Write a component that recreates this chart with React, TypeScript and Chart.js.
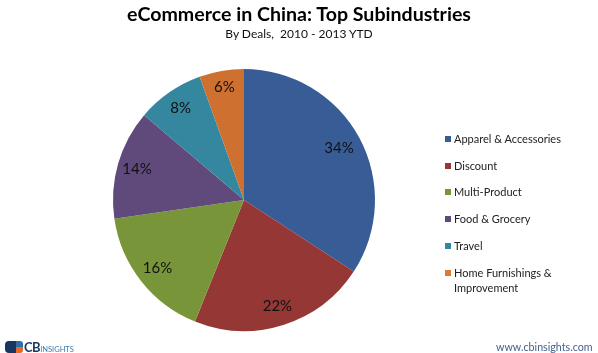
import React, { useEffect, useRef } from "react";
import { Chart, registerables } from "chart.js";

Chart.register(...registerables);

const categories = ["Apparel & Accessories", "Discount", "Multi-Product", "Food & Grocery", "Travel", "Home Furnishings & Improvement"];
const legendLines = [["Apparel & Accessories"], ["Discount"], ["Multi-Product"], ["Food & Grocery"], ["Travel"], ["Home Furnishings &", "Improvement"]];
const sliceSizes = [34.2, 21.9, 16.6, 13.5, 8.3, 5.5];
const sliceLabelValues = [34, 22, 16, 14, 8, 6];
const sliceColors = ["#385d96", "#953735", "#789639", "#604a7b", "#35869f", "#cd7030"];
const legendColors = ["#385d96", "#953735", "#789639", "#604a7b", "#35869f", "#dd7a32"];
const titleText = "eCommerce in China: Top Subindustries";
const subtitleText = "By Deals,  2010 - 2013 YTD";
const footerText = "www.cbinsights.com";

const FONT = "Lato, 'Noto Sans', sans-serif";

const sliceLabels = {
  id: "sliceLabels",
  afterDatasetsDraw(chart: any) {
    const { ctx } = chart;
    const arcs = chart.getDatasetMeta(0).data;
    const radialFactor = [0.825, 0.85, 0.84, 0.85, 0.85, 0.875];
    ctx.save();
    ctx.font = `15px ${FONT}`;
    ctx.fillStyle = "#111111";
    ctx.textAlign = "center";
    ctx.textBaseline = "middle";
    arcs.forEach((arc: any, i: number) => {
      const mid = (arc.startAngle + arc.endAngle) / 2;
      const r = arc.outerRadius * radialFactor[i];
      ctx.fillText(`${sliceLabelValues[i]}%`, arc.x + Math.cos(mid) * r, arc.y + Math.sin(mid) * r);
    });
    ctx.restore();
  },
};

export default function App() {
  const ref = useRef<HTMLCanvasElement>(null);
  useEffect(() => {
    const chart = new Chart(ref.current!, {
      type: "pie",
      data: {
        labels: categories,
        datasets: [{ data: sliceSizes, backgroundColor: sliceColors, borderWidth: 0 }],
      },
      options: {
        animation: false,
        responsive: false,
        layout: { padding: { left: 113, right: 223, top: 69, bottom: 22 } },
        plugins: {
          legend: { display: false },
          tooltip: { enabled: false },
        },
      },
      plugins: [sliceLabels],
    } as any);
    return () => chart.destroy();
  }, []);

  const rowTops = [131, 158, 184, 211, 238, 265];
  return (
    <div style={{ position: "fixed", left: 0, top: 0, width: 598, height: 353, background: "#fff", overflow: "hidden", fontFamily: FONT }}>
      <canvas ref={ref} width={598} height={353} style={{ display: "block" }} />
      <div style={{ position: "absolute", left: 0, width: 598, top: -1, textAlign: "center", color: "#000", fontSize: 19.6, lineHeight: "29px", fontWeight: 700, whiteSpace: "nowrap" }}>{titleText}</div>
      <div style={{ position: "absolute", left: 0, width: 598, top: 25, textAlign: "center", color: "#111", fontSize: 12, lineHeight: "18px", whiteSpace: "pre" }}>{subtitleText}</div>
      {legendLines.map((lines, i) => (
        <div key={categories[i]} style={{ position: "absolute", left: 445, top: rowTops[i], color: "#222", fontSize: 11, lineHeight: "15px" }}>
          <span style={{ position: "absolute", left: 0, top: 5, width: 6, height: 6, background: legendColors[i] }} />
          <div style={{ marginLeft: 9, whiteSpace: "nowrap" }}>
            {lines.map((l) => <div key={l}>{l}</div>)}
          </div>
        </div>
      ))}
      <div style={{ position: "absolute", left: 496, top: 341, color: "#46618f", fontSize: 10.7, lineHeight: "12px", whiteSpace: "nowrap" }}>{footerText}</div>
      <div style={{ position: "absolute", left: 5, top: 341, width: 11, height: 12, background: "#17375e", borderRadius: "4px 0 0 4px" }} />
      <div style={{ position: "absolute", left: 16, top: 341, width: 7, height: 6, background: "#2f6ea5", borderRadius: "0 3px 0 0" }} />
      <div style={{ position: "absolute", left: 16, top: 347, width: 7, height: 6, background: "#e26b2a", borderRadius: "0 0 3px 0" }} />
      <div style={{ position: "absolute", left: 24, top: 341, color: "#17375e", fontSize: 13, lineHeight: "12px", fontWeight: 700, letterSpacing: -0.5, whiteSpace: "nowrap" }}>
        CB<span style={{ color: "#3b78ad", fontSize: 7.5, fontWeight: 400, letterSpacing: 0 }}>INSIGHTS</span>
      </div>
    </div>
  );
}
